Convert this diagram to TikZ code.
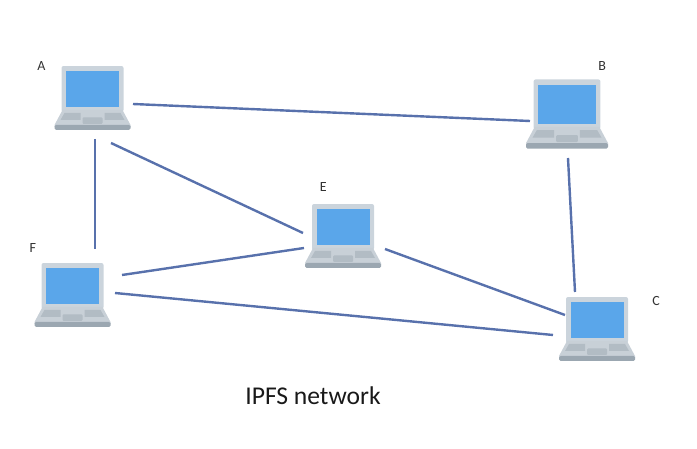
\documentclass[tikz,border=0pt]{standalone}
\usepackage{fontspec}
\setmainfont{Carlito}
\usepackage{xcolor}
\definecolor{lidcol}{RGB}{203, 212, 220}
\definecolor{screencol}{RGB}{ 90, 166, 234}
\definecolor{basecol}{RGB}{200, 208, 215}
\definecolor{keycol}{RGB}{178, 188, 196}
\definecolor{edgecol}{RGB}{155, 167, 177}
\definecolor{linkcol}{RGB}{ 88, 113, 172}
\definecolor{tagcol}{RGB}{ 50,  50,  50}
\usepackage{tikz}
\usetikzlibrary{positioning}

\begin{document}
\begin{tikzpicture}[x=1pt, y=1pt]

  \tikzstyle{laptop} = [
    draw=none, inner sep=0pt,
    minimum width=#1*1pt, minimum height=#1*0.842pt,
    path picture={
      \begin{scope}[shift={(path picture bounding box.center)}, x=#1/76*1pt, y=-#1/76*1pt]
        \fill[lidcol, rounded corners=2pt] (-31,-32) rectangle (31,14);
        \fill[screencol] (-26.5,-27) rectangle (26.5,9);
        \fill[basecol] (-30,12) -- (30,12) -- (38,27) -- (38,29) -- (-38,29) -- (-38,27) -- cycle;
        \fill[edgecol, rounded corners=1.5pt] (-38,27) rectangle (38,32);
        \fill[keycol] (-28,15) -- (-12,15) -- (-12,22) -- (-32,22) -- cycle;
        \fill[keycol] (12,15) -- (28,15) -- (32,22) -- (12,22) -- cycle;
        \fill[keycol, rounded corners=1pt] (-10,19.5) rectangle (10,26);
      \end{scope}
    }
  ]
  \tikzstyle{tag} = [inner sep=0pt, font=\fontsize{14}{16}\selectfont, text=tagcol]
  \tikzstyle{link} = [line width=2.4pt, color=linkcol]

  \useasboundingbox (0,0) rectangle (697,-449);

  \node[laptop=76] (a) at (92.5,-98) {};
  \node[laptop=82] (b) at (567,-114) {};
  \node[laptop=76] (e) at (343,-236) {};
  \node[laptop=76] (f) at (72.5,-295) {};
  \node[laptop=76] (c) at (597,-329) {};

  \node[tag, above left=-5pt and 8.5pt of a] (ta) {A};
  \node[tag, above right=8.5pt and -10pt of b] (tb) {B};
  \node[tag, above left=12pt and -22pt of e] (te) {E};
  \node[tag, above left=10pt and -2pt of f] (tf) {F};
  \node[tag, above right=-9pt and 17pt of c] (tc) {C};

  \node[font=\fontsize{25.6}{30}\selectfont, text=black!90, inner sep=0pt] (title) at (313,-396) {IPFS network};

  \draw[link] ([shift={(40.5,-6)}]a.center) -- ([shift={(-37,-7)}]b.center);
  \draw[link] ([shift={(2.5,-41)}]a.center) -- ([shift={(22.5,46)}]f.center);
  \draw[link] ([shift={(18.5,-45)}]a.center) -- ([shift={(-40,3)}]e.center);
  \draw[link] ([shift={(1,-44)}]b.center) -- ([shift={(-22,37)}]c.center);
  \draw[link] ([shift={(49.5,20)}]f.center) -- ([shift={(-39,-12)}]e.center);
  \draw[link] ([shift={(42.5,2)}]f.center) -- ([shift={(-44,-6)}]c.center);
  \draw[link] ([shift={(42,-13)}]e.center) -- ([shift={(-32,14)}]c.center);

\end{tikzpicture}
\end{document}
